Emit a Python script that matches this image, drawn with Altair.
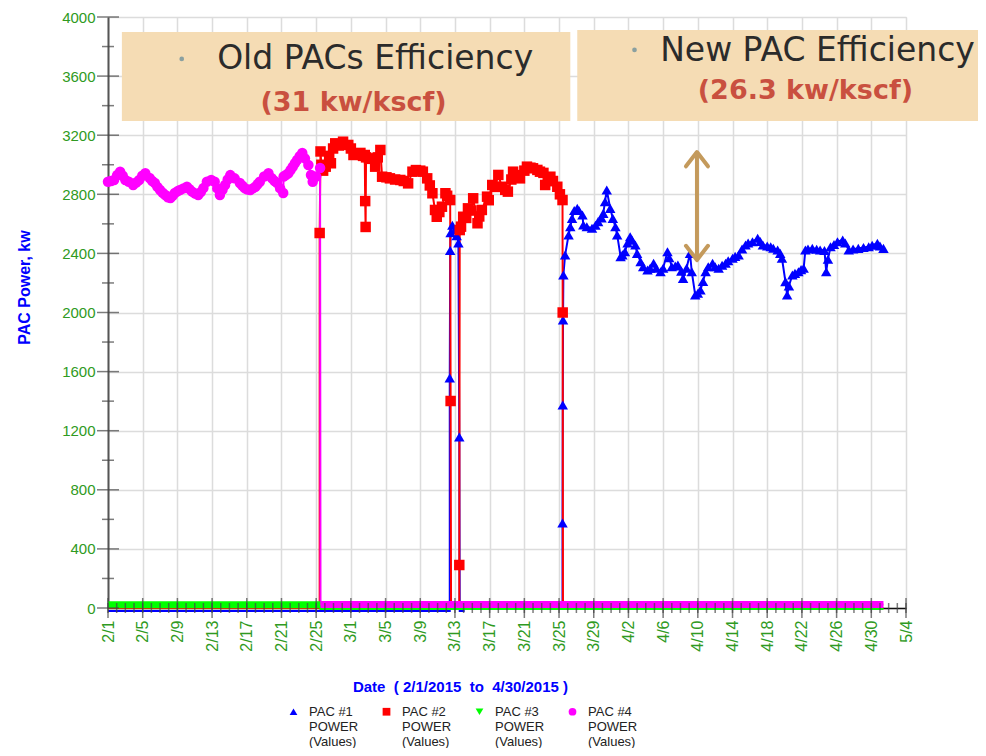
import altair as alt
import pandas as pd
from datetime import datetime, timedelta

BASE = datetime(2015, 2, 1)

def ts(day):
    return (BASE + timedelta(days=day)).strftime("%Y-%m-%dT%H:%M:%S")

def dtobj(day):
    t = BASE + timedelta(days=day)
    return alt.DateTime(year=t.year, month=t.month, date=t.day, hours=t.hour, minutes=t.minute)

# ---- series: (day offset from 2/1/2015, kW) ----
PAC1 = [(0, -20), (39.4, -20), (39.4, 1557), (39.45, 2420), (39.5, 2540), (39.7, 2590), (40.0, 2560),
        (40.2, 2520), (40.4, 2470), (40.5, 1157), (40.55, -20), (41.0, -20), (41.0, -5), (52.4, -5),
        (52.4, 575), (52.43, 1374), (52.46, 1949), (52.5, 2254), (52.7, 2389), (53.1, 2525), (53.3, 2580),
        (53.5, 2637), (53.75, 2690), (54.1, 2705), (54.3, 2690), (54.7, 2660), (54.8, 2592), (55.2, 2580),
        (55.8, 2570), (56.2, 2590), (56.5, 2615), (56.9, 2640), (57.1, 2671), (57.3, 2750), (57.5, 2829),
        (57.9, 2705), (58.2, 2637), (58.5, 2580), (58.7, 2525), (59.1, 2378), (59.3, 2390), (59.6, 2411),
        (59.9, 2470), (60.2, 2513), (60.4, 2490), (60.8, 2457), (61.0, 2400), (61.4, 2344), (61.7, 2310),
        (62.2, 2288), (62.5, 2300), (62.9, 2333), (63.2, 2300), (63.7, 2276), (64.0, 2300), (64.5, 2411),
        (64.7, 2370), (65.0, 2310), (65.4, 2315), (65.7, 2322), (66.1, 2280), (66.3, 2231), (66.7, 2300),
        (67.1, 2400), (67.3, 2276), (67.7, 2118), (68.0, 2130), (68.3, 2152), (68.6, 2210), (68.9, 2276),
        (69.2, 2310), (69.7, 2333), (70.0, 2310), (70.4, 2299), (70.8, 2320), (71.2, 2333), (71.5, 2350),
        (72.0, 2367), (72.3, 2380), (72.7, 2389), (73.1, 2430), (73.5, 2457), (73.8, 2470), (74.3, 2479),
        (74.9, 2502), (75.2, 2480), (75.5, 2457), (76.0, 2450), (76.4, 2445), (76.7, 2435), (77.2, 2423),
        (77.5, 2400), (77.7, 2367), (78.1, 2209), (78.3, 2118), (78.5, 2180), (78.9, 2254), (79.2, 2265),
        (79.6, 2276), (79.9, 2290), (80.2, 2299), (80.4, 2423), (80.7, 2430), (81.2, 2434), (81.7, 2428),
        (82.1, 2423), (82.6, 2420), (82.8, 2276), (83.0, 2360), (83.3, 2445), (83.7, 2460), (84.1, 2479),
        (84.7, 2491), (85.0, 2470), (85.4, 2423), (85.9, 2430), (86.5, 2434), (87.1, 2440), (87.7, 2445),
        (88.1, 2455), (88.7, 2468), (89.0, 2450), (89.4, 2434)]

PAC2 = [(0, 0), (24.4, 0), (24.4, 2538), (24.5, 3090), (24.6, 3000), (24.8, 2960), (25.1, 2987), (25.5, 3060),
        (25.7, 3010), (25.95, 3110), (26.2, 3145), (26.6, 3130), (27.1, 3156), (27.7, 3134), (28.0, 3110),
        (28.3, 3066), (28.7, 3070), (29.1, 3080), (29.4, 3060), (29.6, 3066), (29.65, 2754), (29.7, 2579),
        (29.75, 3050), (30.1, 3043), (30.4, 3040), (30.8, 2987), (31.1, 3050), (31.4, 3100), (31.6, 2919),
        (32.1, 2915), (32.5, 2908), (33.1, 2900), (33.7, 2897), (34.1, 2890), (34.6, 2874), (35.1, 2953),
        (35.5, 2964), (36.0, 2960), (36.3, 2953), (36.8, 2908), (37.1, 2860), (37.4, 2807), (37.7, 2694),
        (37.9, 2648), (38.2, 2680), (38.5, 2716), (38.9, 2807), (39.1, 2790), (39.45, 2761), (39.5, 1401),
        (39.55, 0), (40.5, 0), (40.5, 291), (40.55, 2558), (40.7, 2581), (40.95, 2648), (41.3, 2640),
        (41.5, 2705), (41.9, 2690), (42.1, 2773), (42.6, 2604), (42.8, 2650), (43.1, 2694), (43.7, 2784),
        (43.9, 2760), (44.3, 2863), (44.6, 2850), (45.0, 2931), (45.4, 2851), (45.8, 2830), (46.1, 2818),
        (46.5, 2900), (46.7, 2953), (47.2, 2930), (47.5, 2908), (48.0, 2960), (48.3, 2987), (48.7, 2980),
        (49.0, 2976), (49.5, 2965), (49.8, 2953), (50.2, 2945), (50.4, 2863), (50.7, 2890), (51.0, 2919),
        (51.3, 2890), (51.8, 2851), (52.1, 2800), (52.4, 2761), (52.42, 2000), (52.45, 0), (89.4, 0)]

PAC3 = [(0, 22), (24.5, 22), (24.5, -6), (89.4, -6)]

PAC4 = [(0.0, 2885), (0.35, 2890), (0.7, 2897), (1.05, 2930), (1.4, 2953), (1.7, 2925), (2.0, 2897), (2.4, 2885),
        (2.9, 2863), (3.25, 2880), (3.6, 2897), (3.95, 2925), (4.3, 2942), (4.8, 2910), (5.1, 2890), (5.4, 2876),
        (5.7, 2850), (6.0, 2829), (6.3, 2810), (6.6, 2795), (6.9, 2780), (7.2, 2775), (7.45, 2790), (7.7, 2809),
        (8.0, 2820), (8.3, 2829), (8.7, 2840), (9.1, 2851), (9.4, 2835), (9.7, 2818), (10.05, 2805), (10.4, 2795),
        (10.7, 2815), (11.0, 2842), (11.4, 2885), (11.9, 2897), (12.3, 2885), (12.6, 2840), (12.9, 2795),
        (13.2, 2830), (13.5, 2863), (13.8, 2900), (14.1, 2930), (14.6, 2908), (15.2, 2876), (15.5, 2858),
        (15.8, 2840), (16.1, 2832), (16.4, 2829), (16.7, 2840), (17.0, 2851), (17.25, 2868), (17.5, 2885),
        (18.0, 2920), (18.5, 2942), (18.9, 2908), (19.2, 2890), (19.5, 2876), (19.85, 2840), (20.2, 2809),
        (20.25, 2920), (20.5, 2930), (20.8, 2942), (21.05, 2965), (21.3, 2987), (21.55, 3010), (21.8, 3032),
        (22.1, 3058), (22.4, 3080), (22.7, 3043), (23.1, 2998), (23.4, 2931), (23.6, 2885), (24.0, 2920),
        (24.45, 2978), (24.5, 24), (89.4, 24)]

SERIES = ["PAC #1|POWER|(Values)", "PAC #2|POWER|(Values)", "PAC #3|POWER|(Values)", "PAC #4|POWER|(Values)"]
COLORS = ["#0000ff", "#ff0000", "#00ff00", "#ff00ff"]
SHAPES = ["triangle-up", "square", "triangle-down", "circle"]

# near-zero marker bands: (series index, start day, end day, kW)
BANDS = [(2, 0, 24.5, 22), (3, 24.5, 89.4, 24)]

# annotations
BOX_D0 = [1.6, 54.1]
BOX_D1 = [53.3, 101.3]
BOX_K0 = [3296, 3296]
BOX_K1 = [3898, 3912]
HEAD_TEXT = ["Old PACs Efficiency", "New PAC Efficiency"]
HEAD_DAY = [30.8, 81.8]
HEAD_KW = [3716, 3770]
VAL_TEXT = ["(31 kw/kscf)", "(26.3 kw/kscf)"]
VAL_DAY = [28.3, 80.4]
VAL_KW = [3418, 3499]
BULLET_DAY = [8.5, 60.7]
BULLET_KW = [3716, 3777]
ARROW_DAY = 67.9
ARROW_TOP = 3086
ARROW_BOTTOM = 2355

XTICK_DAYS = list(range(0, 93, 4))
XMINOR_DAYS = list(range(0, 93))
YTICKS = list(range(0, 4001, 400))
YMINOR = list(range(200, 4000, 400))

GREEN = "#2f9a22"
TAN = "#c49a5c"

rows = []
for name, pts in zip(SERIES, [PAC1, PAC2, PAC3, PAC4]):
    for i, (dd, v) in enumerate(pts):
        rows.append({"s": name, "t": ts(dd), "kw": v, "i": i})
series_df = pd.DataFrame(rows)

band_df = pd.DataFrame([{"s": SERIES[k], "t": ts(a), "t2": ts(b), "kw": v} for k, a, b, v in BANDS])

xscale = alt.Scale(domain=[dtobj(0), dtobj(92)], nice=False)
yscale = alt.Scale(domain=[0, 4000], nice=False)
cscale = alt.Scale(domain=SERIES, range=COLORS)
sscale = alt.Scale(domain=SERIES, range=SHAPES)

xaxis = alt.Axis(values=[dtobj(d) for d in XTICK_DAYS], format="%-m/%-d", labelAngle=270, labelAlign="right",
                 labelBaseline="middle", labelColor=GREEN, labelFont="Liberation Sans", labelFontSize=16,
                 labelPadding=12, labelFlush=False, labelOverlap=False, ticks=False, domainColor="#111",
                 domainWidth=1.5, grid=True, gridColor="#dcdcdc", gridWidth=1.5,
                 title="Date\u00a0\u00a0(\u00a02/1/2015\u00a0\u00a0to\u00a0\u00a04/30/2015\u00a0)",
                 titleColor="#0000ff", titleFont="Liberation Sans", titleFontSize=15, titleFontWeight="bold",
                 titleX=352, titleY=78, titleAlign="center", titleBaseline="middle")
yaxis = alt.Axis(values=YTICKS, format="d", labelColor=GREEN, labelFont="Liberation Sans", labelFontSize=15,
                 labelPadding=13, ticks=False, domainColor="#555", domainWidth=2, grid=True, gridColor="#dcdcdc",
                 gridWidth=1.5, title="PAC Power, kw", titleColor="#0000ff", titleFont="Liberation Sans",
                 titleFontSize=16, titleFontWeight="bold", titleAngle=270, titleX=-84, titleY=270,
                 titleAlign="center", titleBaseline="middle")

legend = alt.Legend(
    title=None, orient="none", legendX=179, legendY=688, direction="horizontal", columns=4,
    labelExpr="split(datum.label, '|')", labelFont="Liberation Sans", labelFontSize=13,
    labelColor="#222", labelBaseline="middle", labelOffset=9, columnPadding=21,
    symbolSize=60, symbolStrokeWidth=0)

# grid + axes carrier layer (draws nothing visible itself)
axes_layer = alt.Chart(series_df).mark_point(opacity=0).encode(
    x=alt.X("t:T", scale=xscale, axis=xaxis),
    y=alt.Y("kw:Q", scale=yscale, axis=yaxis),
)

lines = alt.Chart(series_df).mark_line(strokeWidth=2).encode(
    x=alt.X("t:T", scale=xscale, axis=None),
    y=alt.Y("kw:Q", scale=yscale, axis=None),
    color=alt.Color("s:N", scale=cscale, legend=None),
    detail="s:N",
    order=alt.Order("i:Q"),
)

bands = alt.Chart(band_df).mark_rule(strokeWidth=7).encode(
    x=alt.X("t:T", scale=xscale, axis=None),
    x2="t2:T",
    y=alt.Y("kw:Q", scale=yscale, axis=None),
    color=alt.Color("s:N", scale=cscale, legend=None),
)

points = alt.Chart(series_df).transform_filter("datum.kw > 100").mark_point(filled=True, size=110, opacity=1).encode(
    x=alt.X("t:T", scale=xscale, axis=None),
    y=alt.Y("kw:Q", scale=yscale, axis=None),
    color=alt.Color("s:N", scale=cscale, legend=legend),
    shape=alt.Shape("s:N", scale=sscale, legend=legend),
)

xt_major = pd.DataFrame({"t": [ts(d) for d in XTICK_DAYS], "kw": 0})
xt_minor = pd.DataFrame({"t": [ts(d) for d in XMINOR_DAYS], "kw": 0})
yt_major = pd.DataFrame({"t": ts(0), "kw": YTICKS})
yt_minor = pd.DataFrame({"t": ts(0), "kw": YMINOR})

def tick_layer(df, orient, size):
    return alt.Chart(df).mark_tick(orient=orient, size=size, thickness=1.5, color="#444").encode(
        x=alt.X("t:T", scale=xscale, axis=None),
        y=alt.Y("kw:Q", scale=yscale, axis=None),
    )

box_df = pd.DataFrame({"t": [ts(d) for d in BOX_D0], "t2": [ts(d) for d in BOX_D1], "kw": BOX_K0, "kw2": BOX_K1})
boxes = alt.Chart(box_df).mark_rect(color="#f5dcb4").encode(
    x=alt.X("t:T", scale=xscale, axis=None), x2="t2:T",
    y=alt.Y("kw:Q", scale=yscale, axis=None), y2="kw2:Q",
)

head_df = pd.DataFrame({"t": [ts(d) for d in HEAD_DAY], "kw": HEAD_KW, "label": HEAD_TEXT})
heads = alt.Chart(head_df).mark_text(font="DejaVu Sans", fontSize=33, color="#2b2b2b", align="center",
                                     baseline="middle").encode(
    x=alt.X("t:T", scale=xscale, axis=None), y=alt.Y("kw:Q", scale=yscale, axis=None), text="label:N")

val_df = pd.DataFrame({"t": [ts(d) for d in VAL_DAY], "kw": VAL_KW, "label": VAL_TEXT})
vals = alt.Chart(val_df).mark_text(font="DejaVu Sans", fontSize=27, fontWeight="bold", color="#c9503f",
                                   align="center", baseline="middle").encode(
    x=alt.X("t:T", scale=xscale, axis=None), y=alt.Y("kw:Q", scale=yscale, axis=None), text="label:N")

bullet_df = pd.DataFrame({"t": [ts(d) for d in BULLET_DAY], "kw": BULLET_KW})
bullets = alt.Chart(bullet_df).mark_circle(size=22, color="#8aa0a0", opacity=1).encode(
    x=alt.X("t:T", scale=xscale, axis=None), y=alt.Y("kw:Q", scale=yscale, axis=None))

arrow_df = pd.DataFrame({"t": [ts(ARROW_DAY)], "kw": [ARROW_TOP], "kw2": [ARROW_BOTTOM]})
shaft = alt.Chart(arrow_df).mark_rule(color=TAN, strokeWidth=4).encode(
    x=alt.X("t:T", scale=xscale, axis=None), y=alt.Y("kw:Q", scale=yscale, axis=None), y2="kw2:Q")
head_top = alt.Chart(arrow_df).mark_point(shape="M-1,1.3L0,0L1,1.3", size=484, filled=False, color=TAN,
                                          strokeWidth=4, strokeCap="round", strokeJoin="round", opacity=1).encode(
    x=alt.X("t:T", scale=xscale, axis=None), y=alt.Y("kw:Q", scale=yscale, axis=None))
head_bot = alt.Chart(arrow_df).mark_point(shape="M-1,-1.3L0,0L1,-1.3", size=484, filled=False, color=TAN,
                                          strokeWidth=4, strokeCap="round", strokeJoin="round", opacity=1).encode(
    x=alt.X("t:T", scale=xscale, axis=None), y=alt.Y("kw2:Q", scale=yscale, axis=None))

chart = alt.layer(
    axes_layer, lines, bands, points,
    tick_layer(xt_minor, "vertical", 10), tick_layer(xt_major, "vertical", 20),
    tick_layer(yt_minor, "horizontal", 12), tick_layer(yt_major, "horizontal", 22),
    boxes, bullets, heads, vals, shaft, head_top, head_bot,
).resolve_axis(x="independent", y="independent").resolve_legend(
    color="independent", shape="independent"
).properties(
    width=798, height=591,
    autosize=alt.AutoSizeParams(type="none"),
    padding={"left": 100, "top": 9, "right": 72, "bottom": 140},
).configure_view(stroke=None).configure(background="white")

chart.save("out.html", embed_options={"renderer": "svg", "actions": False})
